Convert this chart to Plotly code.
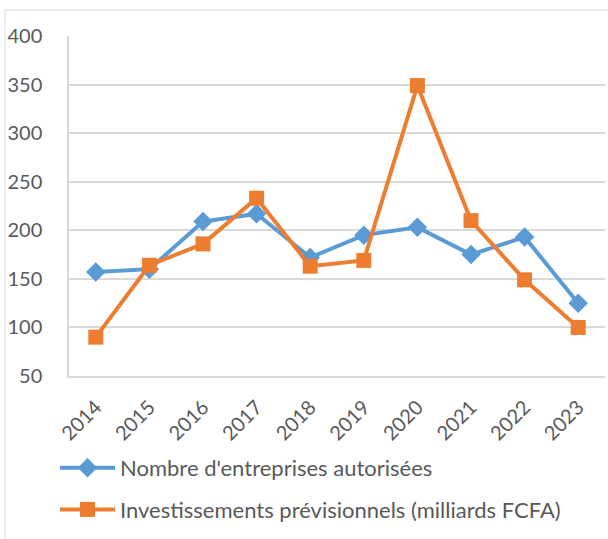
import plotly.graph_objects as go

years = ["2014", "2015", "2016", "2017", "2018", "2019", "2020", "2021", "2022", "2023"]
entreprises = [157, 160, 209, 217, 172, 195, 203, 175, 193, 125]
investissements = [90, 164, 186, 233, 163, 169, 349, 210, 149, 100]
y_ticks = [50, 100, 150, 200, 250, 300, 350, 400]

W, H = 608, 539
ml, mr, mt, mb = 69, 3, 36, 163
pw, ph = W - ml - mr, H - mt - mb

fig = go.Figure()
fig.add_trace(go.Scatter(
    x=years, y=entreprises, mode="lines+markers",
    name="Nombre d'entreprises autorisées", legendgroup="a",
    line=dict(color="#5B9BD5", width=4),
    marker=dict(symbol="diamond", size=15, color="#5B9BD5"),
))
fig.add_trace(go.Scatter(
    x=years, y=investissements, mode="lines+markers",
    name="Investissements prévisionnels (milliards FCFA)", legendgroup="b",
    line=dict(color="#ED7D31", width=4),
    marker=dict(symbol="square", size=15, color="#ED7D31"),
))

def px_x(p):
    return (p - ml) / pw

def px_y(p):
    return (H - mb - p) / ph

fig.add_shape(type="rect", xref="paper", yref="paper",
              x0=px_x(5), x1=px_x(640), y0=px_y(560), y1=px_y(10),
              line=dict(color="#D9D9D9", width=1), fillcolor="rgba(0,0,0,0)", layer="below")

fig.update_layout(
    width=W, height=H,
    margin=dict(l=ml, r=mr, t=mt, b=mb, autoexpand=False),
    paper_bgcolor="white", plot_bgcolor="white",
    font=dict(family="Lato, Calibri, sans-serif", color="#595959", size=18),
    showlegend=True,
    legend=dict(
        x=px_x(55), y=px_y(447), xanchor="left", yanchor="top",
        orientation="v", font=dict(size=22, color="#595959"),
        tracegroupgap=10, itemwidth=55, bgcolor="rgba(0,0,0,0)",
    ),
    xaxis=dict(
        type="category", tickangle=-45, showgrid=False,
        showline=True, linecolor="#D9D9D9", linewidth=1.5,
        tickfont=dict(size=20, color="#595959"), zeroline=False, automargin=False,
        ticks="outside", ticklen=10, tickcolor="rgba(0,0,0,0)",
        range=[-0.5, 9.5],
    ),
    yaxis=dict(
        range=[50, 400], tickvals=y_ticks, showgrid=True, gridcolor="#D9D9D9", gridwidth=1.5,
        showline=True, linecolor="#D9D9D9", linewidth=1.5, zeroline=False, automargin=False,
        ticks="outside", ticklen=21, tickcolor="rgba(0,0,0,0)",
        tickfont=dict(size=20, color="#595959"),
    ),
)

fig.write_html("out.html", config={"displayModeBar": False},
               post_script="document.body.style.margin='0';document.body.style.padding='0';")
